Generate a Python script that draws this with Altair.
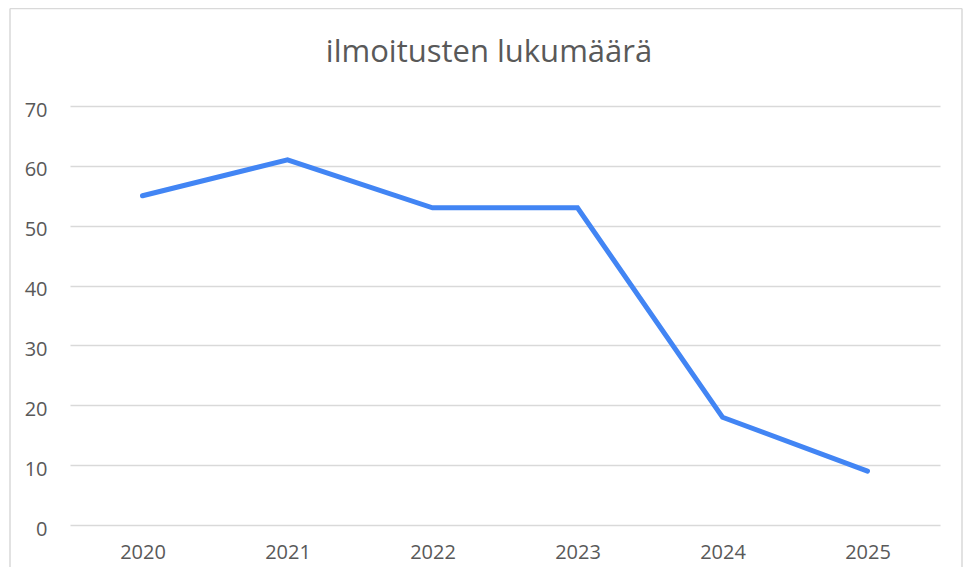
import altair as alt
import pandas as pd

years = ["2020", "2021", "2022", "2023", "2024", "2025"]
counts = [55, 61, 53, 53, 18, 9]
y_ticks = [0, 10, 20, 30, 40, 50, 60, 70]
title_text = "ilmoitusten lukumäärä"

df = pd.DataFrame({"vuosi": years, "lukumäärä": counts})

FONT = "Open Sans"
TXT = "#595959"
GRID = "#d9d9d9"

base = alt.Chart(df)

one = pd.DataFrame({"a": [0]})
b_left = alt.Chart(one).mark_rule(color=GRID, strokeWidth=1.5).encode(
    x=alt.value(-60), x2=alt.value(-60), y=alt.value(-97.5), y2=alt.value(470))
b_right = alt.Chart(one).mark_rule(color=GRID, strokeWidth=1.5).encode(
    x=alt.value(892), x2=alt.value(892), y=alt.value(-97.5), y2=alt.value(470))
b_top = alt.Chart(one).mark_rule(color=GRID, strokeWidth=1.5).encode(
    x=alt.value(-60), x2=alt.value(892), y=alt.value(-97.5), y2=alt.value(-97.5))

title = alt.Chart(pd.DataFrame({"t": [title_text]})).mark_text(
    font=FONT, fontSize=31, color=TXT, align="center", baseline="alphabetic"
).encode(text="t:N", x=alt.value(419), y=alt.value(-44))

line = base.mark_line(color="#4285F4", strokeWidth=5, strokeCap="round", strokeJoin="miter").encode(
    x=alt.X("vuosi:O", title=None, sort=years,
            scale=alt.Scale(type="point", padding=0.5),
            axis=alt.Axis(labelAngle=0, domain=False, ticks=False, grid=False,
                          labelFont=FONT, labelFontSize=20, labelColor=TXT,
                          labelPadding=17)),
    y=alt.Y("lukumäärä:Q", title=None,
            scale=alt.Scale(domain=[0, 70], nice=False),
            axis=alt.Axis(values=y_ticks, domain=False, ticks=False,
                          gridColor=GRID, gridWidth=1.5,
                          labelFont=FONT, labelFontSize=20, labelColor=TXT,
                          labelPadding=23, labelOffset=4)),
)

chart = alt.layer(b_left, b_right, b_top, title, line).properties(
    width=870, height=419,
    autosize=alt.AutoSizeParams(type="none"),
    padding={"left": 62, "top": 98, "right": 23, "bottom": 42},
).configure_view(stroke=None)

chart.save("out.html", embed_options={"renderer": "svg", "actions": False})
